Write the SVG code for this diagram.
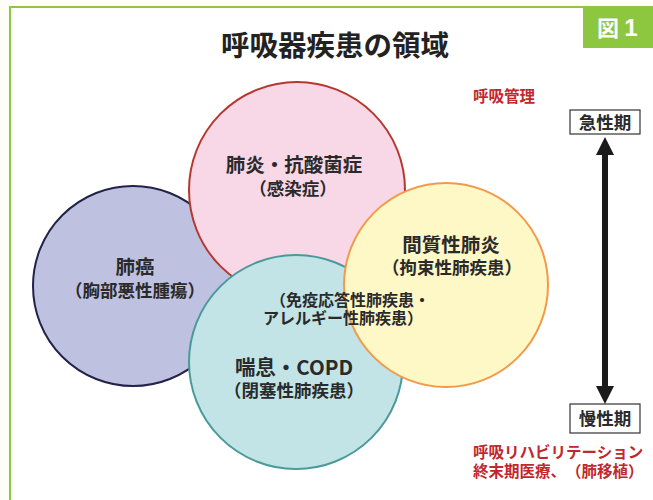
<svg xmlns="http://www.w3.org/2000/svg" width="653" height="500" viewBox="0 0 653 500">
<style>
text{font-family:"Noto Sans CJK JP","Noto Sans",sans-serif;font-weight:bold;text-anchor:middle;fill:#2a2a2a;text-spacing-trim:space-all}
.red{fill:#c1272d;text-anchor:start;font-size:15.5px}
.lbl{font-size:19.5px}
.sub{font-size:17.5px}
.mid{font-size:16px}
.per{font-size:17.5px}
.box{fill:#fff;stroke:#333;stroke-width:1.2}
</style>
<defs>
<marker id="ah" viewBox="0 0 10 10" refX="5" refY="5" markerWidth="3" markerHeight="3" orient="auto-start-reverse" markerUnits="strokeWidth">
<path d="M0,0 L10,5 L0,10 z" fill="#1a1a1a"/>
</marker>
</defs>
<rect x="0" y="0" width="653" height="500" fill="#fffdf8"/>
<rect x="10" y="7" width="660" height="510" fill="#fff" stroke="#8dc63f" stroke-width="2"/>
<g id="badge">
<rect x="583" y="7" width="72" height="41" fill="#8dc63f"/>
<text x="608" y="36" style="fill:#fff;font-size:22px">図</text>
<text x="631" y="36" style="fill:#fff;font-size:24px;font-family:'Liberation Sans',sans-serif">1</text>
</g>
<text id="title" x="335" y="56" style="font-size:28.5px;fill:#222">呼吸器疾患の領域</text>
<g id="cancer">
<circle cx="133" cy="286" r="100" fill="#bfc1e0" stroke="#22224a" stroke-width="2"/>
</g>
<g id="pneumonia">
<circle cx="297" cy="190" r="108" fill="#f8d7e6" stroke="#b5372e" stroke-width="2"/>
</g>
<g id="asthma">
<circle cx="296" cy="362" r="107" fill="#c2e4e6" stroke="#4a9a9a" stroke-width="2"/>
</g>
<g id="interstitial">
<circle cx="446" cy="285" r="102" fill="#fef7c6" stroke="#f39a4a" stroke-width="2"/>
</g>
<g id="labels">
<text x="294" y="172" class="lbl">肺炎・抗酸菌症</text>
<text x="293" y="195" class="sub">（感染症）</text>
<text x="135" y="274" class="lbl">肺癌</text>
<text x="135" y="297" class="sub">（胸部悪性腫瘍）</text>
<text x="451" y="252" class="lbl">間質性肺炎</text>
<text x="452" y="274" class="sub">（拘束性肺疾患）</text>
<text x="350" y="306" class="mid">（免疫応答性肺疾患・</text>
<text x="343" y="324" class="mid">アレルギー性肺疾患）</text>
<text x="294" y="375" style="font-size:20.5px">喘息・COPD</text>
<text x="294" y="397" class="sub">（閉塞性肺疾患）</text>
</g>
<text x="473" y="102" class="red">呼吸管理</text>
<g id="acute">
<rect x="570" y="110" width="70" height="24" class="box"/>
<text x="605" y="129" class="per">急性期</text>
</g>
<g id="chronic">
<rect x="570" y="404" width="70" height="29" class="box"/>
<text x="605" y="425" class="per">慢性期</text>
</g>
<g id="connectors">
<line x1="605" y1="146" x2="605" y2="395" stroke="#1a1a1a" stroke-width="6" marker-start="url(#ah)" marker-end="url(#ah)"/>
</g>
<text x="473" y="458" class="red">呼吸リハビリテーション</text>
<text x="473" y="477" class="red">終末期医療、（肺移植）</text>
</svg>
